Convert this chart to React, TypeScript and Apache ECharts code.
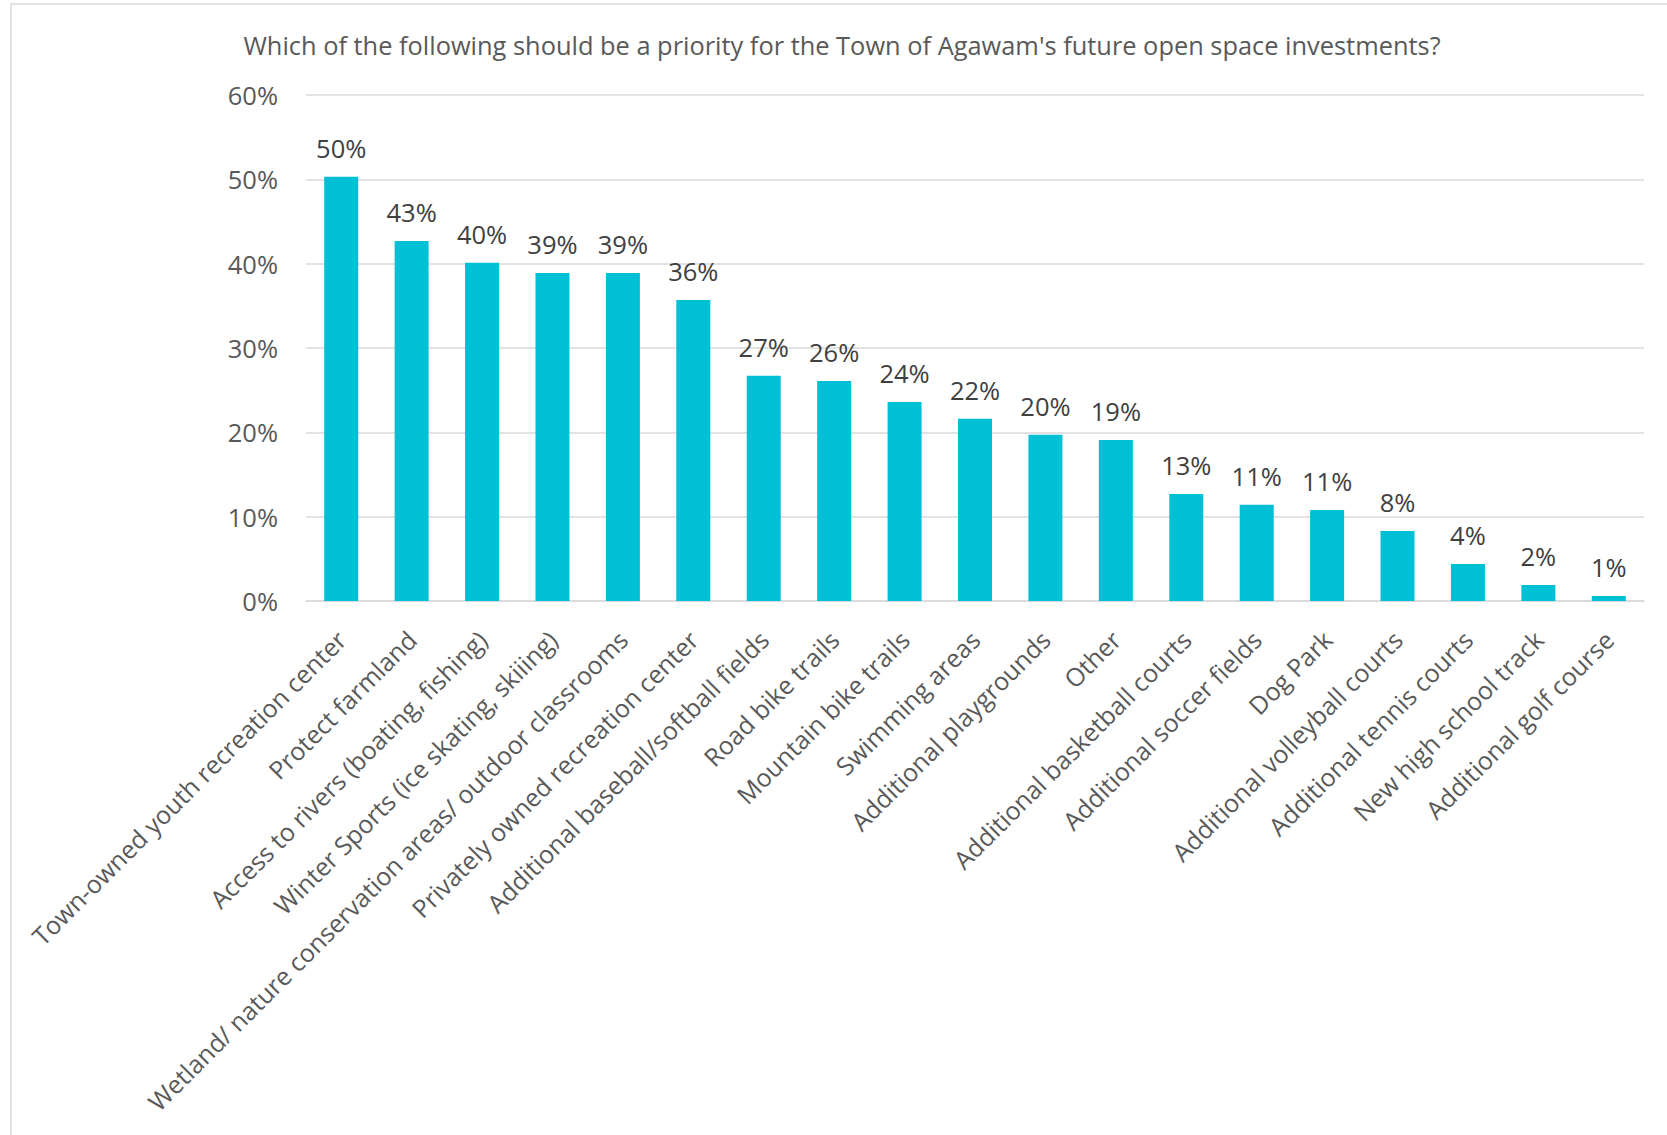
import React, { useEffect, useRef } from "react";
import * as echarts from "echarts";

const TITLE = "Which of the following should be a priority for the Town of Agawam's future open space investments?";

const categories = [
  "Town-owned youth recreation center",
  "Protect farmland",
  "Access to rivers (boating, fishing)",
  "Winter Sports (ice skating, skiiing)",
  "Wetland/ nature conservation areas/ outdoor classrooms",
  "Privately owned recreation center",
  "Additional baseball/softball fields",
  "Road bike trails",
  "Mountain bike trails",
  "Swimming areas",
  "Additional playgrounds",
  "Other",
  "Additional basketball courts",
  "Additional soccer fields",
  "Dog Park",
  "Additional volleyball courts",
  "Additional tennis courts",
  "New high school track",
  "Additional golf course",
];

const values = [
  50.3, 42.7, 40.1, 38.9, 38.9, 35.7, 26.7, 26.1, 23.6, 21.6, 19.7, 19.1, 12.7, 11.4, 10.8, 8.3, 4.4, 1.9, 0.6,
];

const yTicks = { min: 0, max: 60, interval: 10 };

const FONT = "'Open Sans', 'Noto Sans', sans-serif";

export default function App() {
  const ref = useRef<HTMLDivElement>(null);

  useEffect(() => {
    if (!ref.current) return;
    const chart = echarts.init(ref.current, null, { renderer: "svg" });
    chart.setOption({
      animation: false,
      backgroundColor: "#ffffff",
      textStyle: { fontFamily: FONT },
      graphic: [
        {
          type: "rect",
          shape: { x: 11, y: 4, width: 1700, height: 1200 },
          style: { fill: "none", stroke: "#d9d9d9", lineWidth: 1.5 },
          silent: true,
        },
        {
          type: "text",
          x: 842,
          y: 45,
          style: {
            text: TITLE,
            fontFamily: FONT,
            fontSize: 25.4,
            fill: "#595959",
            align: "center",
            verticalAlign: "middle",
          },
        },
      ],
      grid: { left: 306, right: 23, top: 95, bottom: 534, containLabel: false },
      xAxis: {
        type: "category",
        data: categories,
        axisLine: { show: true, lineStyle: { color: "#d9d9d9", width: 1.5 } },
        axisTick: { show: false },
        axisLabel: {
          interval: 0,
          rotate: 45,
          margin: 34,
          fontFamily: FONT,
          fontSize: 25,
          color: "#595959",
        },
      },
      yAxis: {
        type: "value",
        min: yTicks.min,
        max: yTicks.max,
        interval: yTicks.interval,
        axisLine: { show: false },
        axisTick: { show: false },
        splitLine: { lineStyle: { color: "#d9d9d9", width: 1.5 } },
        axisLabel: {
          formatter: "{value}%",
          margin: 28,
          fontFamily: FONT,
          fontSize: 25.5,
          color: "#595959",
        },
      },
      series: [
        {
          type: "bar",
          data: values,
          barWidth: 34,
          itemStyle: { color: "#00C0D5" },
          label: {
            show: true,
            position: "top",
            distance: 16,
            formatter: (p: any) => Math.round(p.value) + "%",
            fontFamily: FONT,
            fontSize: 25.5,
            color: "#404040",
          },
        },
      ],
    });
    return () => chart.dispose();
  }, []);

  return (
    <div
      ref={ref}
      style={{ position: "absolute", left: 0, top: 0, width: 1667, height: 1135 }}
    />
  );
}
